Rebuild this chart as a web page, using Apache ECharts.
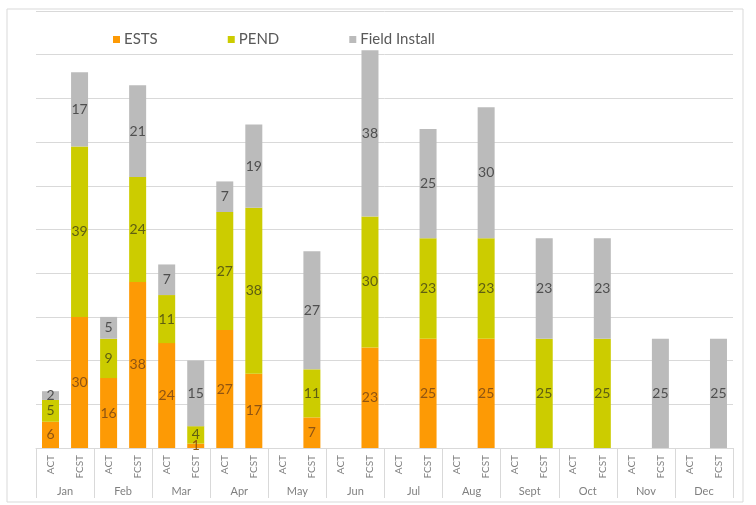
<!DOCTYPE html>
<html>
<head>
<meta charset="utf-8">
<script src="https://cdn.jsdelivr.net/npm/echarts@6/dist/echarts.min.js"></script>
<style>
  html, body { margin: 0; padding: 0; background: #fff; }
  #chart { width: 756px; height: 505px; }
</style>
</head>
<body>
<div id="chart"></div>
<script>
// Months and the two bars shown for each month
const months = ['Jan', 'Feb', 'Mar', 'Apr', 'May', 'Jun', 'Jul', 'Aug', 'Sept', 'Oct', 'Nov', 'Dec'];
const kinds = ['ACT', 'FCST'];

// Actuals per month
const estsAct  = [6, 16, 24, 27, null, null, null, null, null, null, null, null];
const pendAct  = [5, 9, 11, 27, null, null, null, null, null, null, null, null];
const fieldAct = [2, 5, 7, 7, null, null, null, null, null, null, null, null];

// Forecast per month
const estsFcst  = [30, 38, 1, 17, 7, 23, 25, 25, null, null, null, null];
const pendFcst  = [39, 24, 4, 38, 11, 30, 23, 23, 25, 25, null, null];
const fieldFcst = [17, 21, 15, 19, 27, 38, 25, 30, 23, 23, 25, 25];

// Interleave ACT / FCST so each month gets two slots on the inner axis
function interleave(act, fcst) {
  const out = [];
  months.forEach((m, i) => { out.push(act[i]); out.push(fcst[i]); });
  return out;
}
const slots = [];
months.forEach(() => kinds.forEach(k => slots.push(k)));

const FONT = 'Lato, "Open Sans", sans-serif';

function barSeries(name, color, labelColor, data) {
  return {
    name: name,
    type: 'bar',
    stack: 'total',
    barWidth: 17,
    xAxisIndex: 0,
    yAxisIndex: 0,
    itemStyle: { color: color },
    label: {
      show: true,
      position: 'inside',
      fontFamily: FONT,
      fontSize: 14,
      color: labelColor
    },
    data: data
  };
}

const chart = echarts.init(document.getElementById('chart'), null, { renderer: 'canvas' });

chart.setOption({
  backgroundColor: '#ffffff',
  animation: false,
  textStyle: { fontFamily: FONT },
  graphic: [{
    type: 'rect',
    shape: { x: 7, y: 9, width: 736, height: 493 },
    style: { fill: 'none', stroke: '#d9d9d9', lineWidth: 1 },
    silent: true,
    z: -1
  }],
  legend: {
    left: 108,
    top: 27,
    itemWidth: 7,
    itemHeight: 7,
    itemGap: 70,
    icon: 'rect',
    textStyle: { fontFamily: FONT, fontSize: 15, color: '#595959', padding: [0, 0, 0, -1] },
    data: ['ESTS', 'PEND', 'Field Install']
  },
  grid: { left: 36, right: 23, top: 11, bottom: 57 },
  xAxis: [
    {
      type: 'category',
      data: slots,
      position: 'bottom',
      axisLine: { show: true, lineStyle: { color: '#d9d9d9', width: 1 } },
      axisTick: { show: false },
      axisLabel: {
        rotate: 90,
        interval: 0,
        margin: 7,
        fontFamily: FONT,
        fontSize: 10,
        color: '#7f7f7f'
      },
      splitLine: { show: false }
    },
    {
      type: 'category',
      data: months,
      position: 'bottom',
      axisLine: { show: false },
      axisTick: { show: true, length: 50, interval: 0, lineStyle: { color: '#d9d9d9', width: 1 } },
      axisLabel: {
        interval: 0,
        margin: 38,
        fontFamily: FONT,
        fontSize: 11,
        color: '#7f7f7f'
      },
      splitLine: { show: false }
    }
  ],
  yAxis: {
    type: 'value',
    min: 0,
    max: 100,
    interval: 10,
    axisLine: { show: false },
    axisTick: { show: false },
    axisLabel: { show: false },
    splitLine: { show: true, lineStyle: { color: '#d9d9d9', width: 1 } }
  },
  series: [
    barSeries('ESTS', '#fd9a05', '#8f5412', interleave(estsAct, estsFcst)),
    barSeries('PEND', '#cccc00', '#5e5e12', interleave(pendAct, pendFcst)),
    barSeries('Field Install', '#bbbbbb', '#4f4f4f', interleave(fieldAct, fieldFcst))
  ]
});
</script>
</body>
</html>
